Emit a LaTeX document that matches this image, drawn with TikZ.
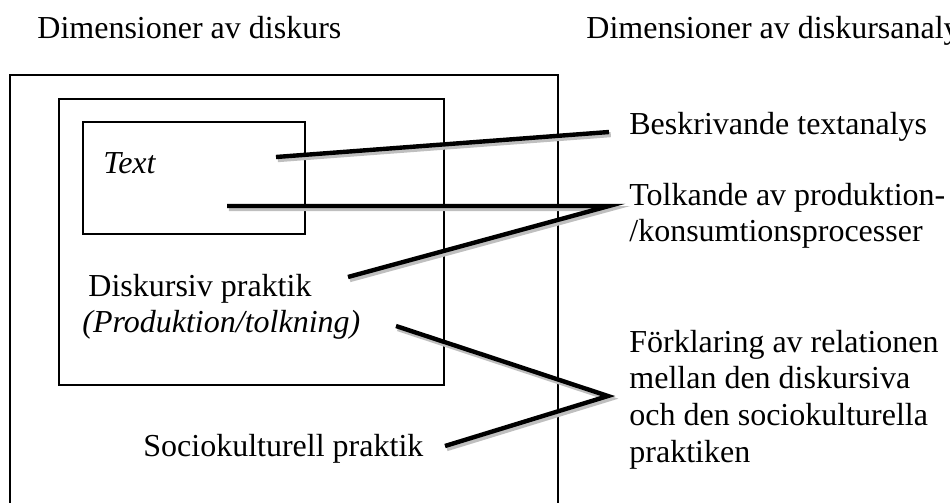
\documentclass[tikz,border=0pt]{standalone}
\usepackage{fontspec}
\setmainfont{Liberation Serif}
\tikzset{every node/.style={inner sep=0pt,anchor=base west,align=left}}
\tikzset{box/.style={draw,line width=0.7pt}}
\tikzset{link/.style={line width=2.2pt,preaction={draw,black!25,line width=2.6pt,transform canvas={shift={(0.9pt,-1.3pt)}}}}}

\begin{document}
\begin{tikzpicture}[x=0.5pt,y=-0.5pt,font=\fontsize{16}{18.3}\selectfont]
      \useasboundingbox (0,0) rectangle (950,503);
      % boxes
      \draw[box] (10,75) rectangle (558,530);
      \draw[box] (59,99) rectangle (444,385);
      \draw[box] (83,122) rectangle (305,234);
      % labels
      \node (hl) at (37,39) {Dimensioner av diskurs};
      \node (hr) at (586,39) {Dimensioner av diskursanalys};
      \node (tx) at (103,173) {\textit{Text}};
      \node (dp) at (88,296) {Diskursiv praktik};
      \node (pt) at (82,332) {\textit{(Produktion/tolkning)}};
      \node (sp) at (143,456) {Sociokulturell praktik};
      \node (bt) at (629,134) {Beskrivande textanalys};
      \node (tp) at (629,242) {Tolkande av produktion-\\/konsumtionsprocesser};
      \node (fr) at (629,462) {Förklaring av relationen\\mellan den diskursiva\\och den sociokulturella\\praktiken};
      % connector ends
      \coordinate (a1) at (276,157);
      \coordinate (b1) at (609,132);
      \coordinate (a2) at (227,206);
      \coordinate (b2) at (609,206);
      \coordinate (a3) at (348,277);
      \coordinate (a4) at (396,326);
      \coordinate (b4) at (608,396);
      \coordinate (a5) at (445,446);
      \foreach \a/\b/\c in {a1/b1/b1,a2/b2/a3,a4/b4/a5}
        \draw[link] (\a) -- (\b) -- (\c);
\end{tikzpicture}
\end{document}
